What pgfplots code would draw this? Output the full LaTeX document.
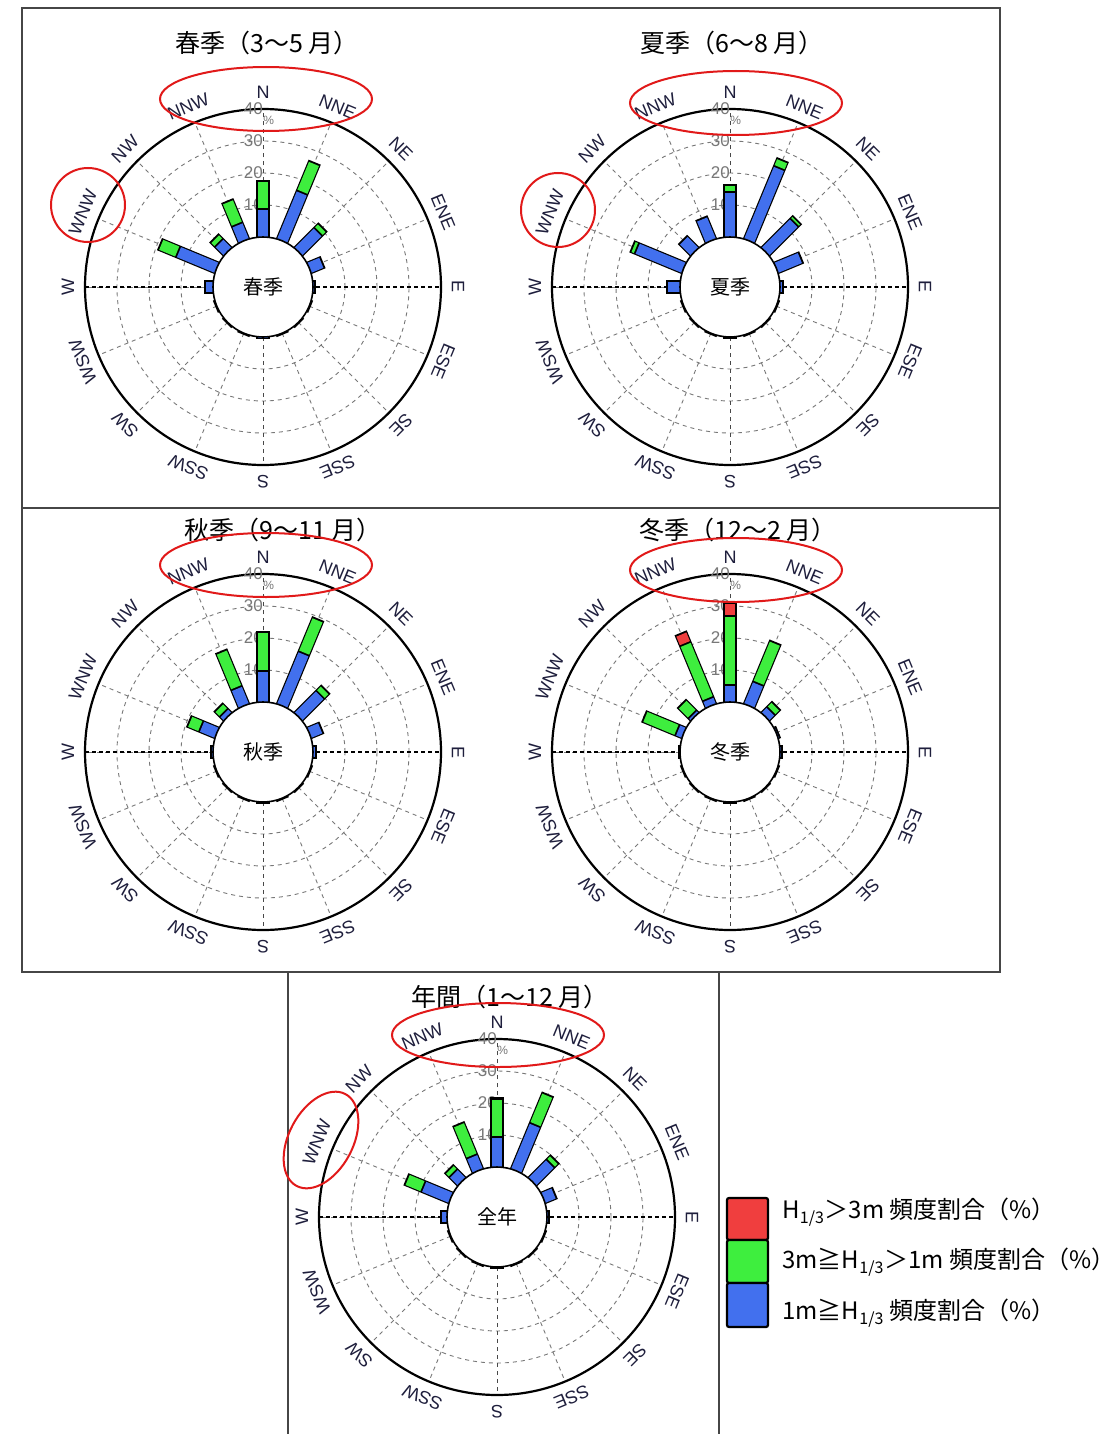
\documentclass[border=0pt]{standalone}
\usepackage{pgfplots}
\pgfplotsset{compat=1.18}
\usepackage{pgfplotstable}
\usetikzlibrary{shapes.geometric}
\usepackage{fontspec}
\setmainfont{Liberation Sans}
\newfontfamily\jp{Noto Sans CJK JP}
\definecolor{cblue}{RGB}{66,112,238}
\definecolor{cgreen}{RGB}{62,238,62}
\definecolor{cred}{RGB}{240,62,62}
\definecolor{ered}{RGB}{225,25,25}
\definecolor{dirc}{RGB}{30,30,60}
\definecolor{gridc}{RGB}{120,120,120}
\definecolor{framec}{RGB}{70,70,70}

% d = bearing (deg), b = 1m>=H, g = 3m>=H>1m, r = H>3m  (%)
\pgfplotstableread{
d b g r
0 8.7 8.9 0
22.5 16.3 10.0 0
45 8.8 1.8 0
67.5 4.4 0 0
90 0.6 0 0
112.5 0.2 0 0
135 0.2 0 0
157.5 0.2 0 0
180 0.4 0 0
202.5 0.2 0 0
225 0.2 0 0
247.5 0.2 0 0
270 2.5 0 0
292.5 13.1 6.0 0
315 3.9 1.9 0
337.5 5.5 7.8 0
}\tspring
\pgfplotstableread{
d b g r
0 14.2 2.0 0
22.5 24.6 2.6 0
45 12.8 1.1 0
67.5 8.3 0 0
90 0.9 0 0
112.5 0.2 0 0
135 0.2 0 0
157.5 0.2 0 0
180 0.3 0 0
202.5 0.2 0 0
225 0.2 0 0
247.5 0.2 0 0
270 4.0 0 0
292.5 15.9 1.4 0
315 5.1 0 0
337.5 7.5 0 0
}\tsummer
\pgfplotstableread{
d b g r
0 9.7 12.3 0
22.5 17.7 11.5 0
45 9.7 2.2 0
67.5 4.0 0 0
90 0.8 0 0
112.5 0.2 0 0
135 0.2 0 0
157.5 0.2 0 0
180 0.3 0 0
202.5 0.2 0 0
225 0.2 0 0
247.5 0.2 0 0
270 0.6 0 0
292.5 5.3 4.0 0
315 1.7 2.3 0
337.5 6.0 12.3 0
}\tautumn
\pgfplotstableread{
d b g r
0 5.3 21.6 3.9
22.5 7.5 13.8 0
45 2.5 2.2 0
67.5 0.5 0 0
90 0.5 0 0
112.5 0.2 0 0
135 0.2 0 0
157.5 0.2 0 0
180 0.3 0 0
202.5 0.2 0 0
225 0.2 0 0
247.5 0.2 0 0
270 0.3 0 0
292.5 2.2 11.1 0
315 1.0 4.6 0
337.5 2.3 18.6 3.5
}\twinter
\pgfplotstableread{
d b g r
0 9.3 11.9 0.5
22.5 15.5 10.2 0
45 8.0 1.8 0
67.5 3.8 0 0
90 0.6 0 0
112.5 0.2 0 0
135 0.2 0 0
157.5 0.2 0 0
180 0.3 0 0
202.5 0.2 0 0
225 0.2 0 0
247.5 0.2 0 0
270 1.9 0 0
292.5 9.3 5.6 0
315 3.7 1.8 0
337.5 4.9 10.8 0
}\tannual

% radius of value v (in axis units) = 15.625 + v ; 1 unit = 1.6pt
\newcommand{\rosebars}[1]{%
 \addplot[black, line width=6.6pt, no markers,
   quiver={u={(\thisrow{b}+\thisrow{g}+\thisrow{r}+0.3)*sin(\thisrow{d})},
           v={(\thisrow{b}+\thisrow{g}+\thisrow{r}+0.3)*cos(\thisrow{d})}}]
   table[x expr={15.625*sin(\thisrow{d})}, y expr={15.625*cos(\thisrow{d})}] {#1};
 \addplot[cblue, line width=5.4pt, no markers,
   quiver={u={max(\thisrow{b}-0.3,0)*sin(\thisrow{d})},
           v={max(\thisrow{b}-0.3,0)*cos(\thisrow{d})}}]
   table[x expr={15.625*sin(\thisrow{d})}, y expr={15.625*cos(\thisrow{d})}] {#1};
 \addplot[cgreen, line width=5.4pt, no markers,
   quiver={u={max(\thisrow{g}-0.6,0)*sin(\thisrow{d})},
           v={max(\thisrow{g}-0.6,0)*cos(\thisrow{d})}}]
   table[x expr={(15.925+\thisrow{b})*sin(\thisrow{d})}, y expr={(15.925+\thisrow{b})*cos(\thisrow{d})}] {#1};
 \addplot[cred, line width=5.4pt, no markers,
   quiver={u={max(\thisrow{r}-0.6,0)*sin(\thisrow{d})},
           v={max(\thisrow{r}-0.6,0)*cos(\thisrow{d})}}]
   table[x expr={(15.925+\thisrow{b}+\thisrow{g})*sin(\thisrow{d})}, y expr={(15.925+\thisrow{b}+\thisrow{g})*cos(\thisrow{d})}] {#1};
}

\newcommand{\roseaxis}[3]{%
\begin{axis}[at={(#1pt,#2pt)}, anchor=center, x=1.6pt, y=1.6pt,
  xmin=-60, xmax=60, ymin=-60, ymax=60, enlargelimits=false,
  hide axis, clip=false]
 \rosebars{#3}
\end{axis}}

\newcommand{\rosegrid}[2]{%
\begin{scope}[shift={(#1pt,#2pt)}]
 \foreach \rr in {41,57,73}
   \draw[gridc, dash pattern=on 2pt off 2pt, line width=0.45pt] (0,0) circle[radius=\rr pt];
 \foreach \a in {22.5,45,...,337.5}
   \draw[gridc, dash pattern=on 2pt off 2pt, line width=0.45pt] (\a:25pt) -- (\a:89pt);
 \draw[gridc!60!black, dash pattern=on 2pt off 2pt, line width=0.5pt] (0,25pt) -- (0,89pt);
 \draw[gridc!60!black, dash pattern=on 2pt off 2pt, line width=0.5pt] (0,-25pt) -- (0,-89pt);
 \draw[black, dash pattern=on 2pt off 1.5pt, line width=0.55pt] (-89pt,0) -- (89pt,0);
 \draw[line width=1.1pt] (0,0) circle[radius=89pt];
 \foreach \v/\rr in {10/41,20/57,30/73,40/89}
   \node[text=gridc, font=\fontsize{8.5}{9}\selectfont, inner sep=0.5pt] at (-4.8pt,\rr pt) {\v};
 \node[text=gridc, font=\fontsize{6}{7}\selectfont, inner sep=0pt] at (2.8pt,83.5pt) {\%};
\end{scope}}

\newcommand{\roselabels}[3]{%
\begin{scope}[shift={(#1pt,#2pt)}]
 \draw[fill=white, line width=0.8pt] (0,0) circle[radius=25pt];
 \node[font=\jp\fontsize{10}{12}\selectfont] at (0,0) {#3};
 \foreach \l [count=\i from 0] in {N,NNE,NE,ENE,E,ESE,SE,SSE,S,SSW,SW,WSW,W,WNW,NW,NNW}
   \node[font=\fontsize{9}{10}\selectfont, text=dirc, rotate=-22.5*\i, inner sep=0pt] at ({90-22.5*\i}:97.5pt) {\l};
\end{scope}}

\begin{document}
\begin{tikzpicture}
\path[use as bounding box] (0,0) rectangle (559pt,-717pt);
\fill[white] (0,0) rectangle (559pt,-717pt);
% frames
\draw[framec, line width=0.8pt] (11pt,-4pt) rectangle (500pt,-254pt);
\draw[framec, line width=0.8pt] (11pt,-254pt) rectangle (500pt,-486pt);
\draw[framec, line width=0.8pt] (144pt,-717.5pt) -- (144pt,-486pt) -- (359.5pt,-486pt) -- (359.5pt,-717.5pt);

% grids
\rosegrid{131.5}{-143.5}
\rosegrid{365}{-143.5}
\rosegrid{131.5}{-376}
\rosegrid{365}{-376}
\rosegrid{248.5}{-608.5}

% bars
\roseaxis{131.5}{-143.5}{\tspring}
\roseaxis{365}{-143.5}{\tsummer}
\roseaxis{131.5}{-376}{\tautumn}
\roseaxis{365}{-376}{\twinter}
\roseaxis{248.5}{-608.5}{\tannual}

% holes and labels
\roselabels{131.5}{-143.5}{春季}
\roselabels{365}{-143.5}{夏季}
\roselabels{131.5}{-376}{秋季}
\roselabels{365}{-376}{冬季}
\roselabels{248.5}{-608.5}{全年}

% titles
\begin{scope}[font=\jp\fontsize{12.5}{14}\selectfont]
\node at (133.5pt,-21.5pt) {春季（3～5 月）};
\node at (366pt,-21.5pt) {夏季（6～8 月）};
\node at (141.5pt,-265pt) {秋季（9～11 月）};
\node at (369pt,-265pt) {冬季（12～2 月）};
\node at (255pt,-498.5pt) {年間（1～12 月）};
\end{scope}

% red ellipses
\begin{scope}[ered, line width=1pt]
\draw (133pt,-49.5pt) ellipse[x radius=53pt, y radius=16pt];
\draw (368pt,-51.5pt) ellipse[x radius=53pt, y radius=16pt];
\draw (133pt,-282.5pt) ellipse[x radius=53pt, y radius=16pt];
\draw (368pt,-285pt) ellipse[x radius=53pt, y radius=16pt];
\draw (249pt,-517.5pt) ellipse[x radius=53pt, y radius=16pt];
\draw (44pt,-102.5pt) circle[radius=18.5pt];
\draw (279pt,-105pt) circle[radius=18.5pt];
\node[draw=ered, line width=1pt, ellipse, inner sep=0pt, minimum width=52pt, minimum height=32pt, rotate=62] at (160.5pt,-570pt) {};
\end{scope}

% legend
\draw[line width=1.1pt, fill=cred, rounded corners=1pt] (363.5pt,-599pt) rectangle (384pt,-620pt);
\draw[line width=1.1pt, fill=cgreen, rounded corners=1pt] (363.5pt,-620pt) rectangle (384pt,-641.5pt);
\draw[line width=1.1pt, fill=cblue, rounded corners=1pt] (363.5pt,-641.5pt) rectangle (384pt,-663.5pt);
\begin{scope}[font=\jp\fontsize{12}{14}\selectfont]
\node[anchor=west, inner sep=0pt] at (391pt,-606pt) {H\textsubscript{1/3}＞3m 頻度割合（\%）};
\node[anchor=west, inner sep=0pt] at (391pt,-631pt) {3m≧H\textsubscript{1/3}＞1m 頻度割合（\%）};
\node[anchor=west, inner sep=0pt] at (391pt,-656.5pt) {1m≧H\textsubscript{1/3} 頻度割合（\%）};
\end{scope}
\end{tikzpicture}
\end{document}
